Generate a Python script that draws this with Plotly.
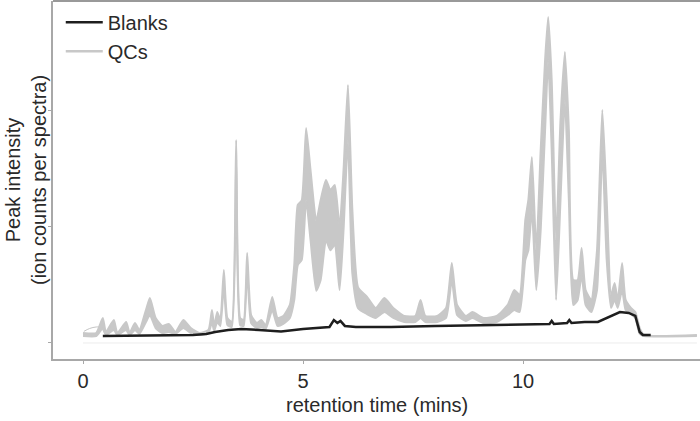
import plotly.graph_objects as go

# retention time (mins) sample points for the QC envelope
qc_rt = [0.00, 0.30, 0.45, 0.52, 0.70, 0.78, 0.98, 1.06, 1.18, 1.28,
         1.43, 1.52, 1.65, 1.80, 1.95, 2.10, 2.28, 2.45, 2.65, 2.85,
         2.93, 2.98, 3.05, 3.12, 3.20, 3.28, 3.38, 3.48, 3.57, 3.65,
         3.73, 3.82, 3.95, 4.05, 4.15, 4.30, 4.42, 4.55, 4.70, 4.80,
         4.88, 4.97, 5.07, 5.17, 5.30, 5.40, 5.52, 5.62, 5.72, 5.83,
         5.92, 6.02, 6.12, 6.25, 6.45, 6.65, 6.85, 7.05, 7.30, 7.55,
         7.67, 7.78, 8.05, 8.25, 8.38, 8.50, 8.70, 8.85, 9.10, 9.40,
         9.65, 9.80, 9.92, 10.05, 10.12, 10.20, 10.30, 10.40, 10.50, 10.57,
         10.65, 10.75, 10.85, 10.95, 11.04, 11.14, 11.24, 11.33, 11.42, 11.55,
         11.68, 11.80, 11.90, 12.00, 12.08, 12.15, 12.25, 12.33, 12.45, 12.55,
         12.65, 12.75, 13.95]

# upper edge of the QC traces (peak intensity, x1e7 ion counts)
qc_high = [0.086, 0.086, 0.216, 0.095, 0.198, 0.086, 0.181, 0.086, 0.172, 0.112,
           0.284, 0.388, 0.216, 0.147, 0.164, 0.095, 0.198, 0.129, 0.086, 0.112,
           0.284, 0.147, 0.267, 0.198, 0.629, 0.216, 0.181, 1.750, 0.216, 0.198,
           0.776, 0.241, 0.172, 0.198, 0.155, 0.397, 0.216, 0.233, 0.328, 0.672,
           1.190, 1.230, 1.853, 1.490, 1.050, 1.233, 1.405, 1.319, 1.362, 1.000,
           1.490, 2.224, 1.150, 0.480, 0.400, 0.302, 0.388, 0.302, 0.233, 0.233,
           0.371, 0.233, 0.233, 0.302, 0.690, 0.328, 0.233, 0.267, 0.216, 0.233,
           0.328, 0.457, 0.414, 1.060, 1.233, 1.603, 0.800, 1.664, 2.440, 2.810,
           2.267, 0.888, 1.922, 2.509, 1.836, 0.543, 0.543, 0.819, 0.457, 0.371,
           0.800, 2.009, 1.233, 0.414, 0.517, 0.371, 0.690, 0.371, 0.302, 0.267,
           0.129, 0.069, 0.069]

# lower edge of the QC traces
qc_low = [0.060, 0.060, 0.129, 0.069, 0.112, 0.069, 0.112, 0.069, 0.112, 0.078,
          0.181, 0.241, 0.129, 0.086, 0.095, 0.078, 0.129, 0.086, 0.069, 0.086,
          0.181, 0.103, 0.181, 0.147, 0.500, 0.155, 0.138, 1.578, 0.155, 0.147,
          0.629, 0.172, 0.129, 0.138, 0.121, 0.284, 0.147, 0.164, 0.216, 0.371,
          0.672, 0.716, 1.233, 0.888, 0.450, 0.543, 0.888, 0.800, 0.845, 0.457,
          0.974, 1.750, 0.600, 0.300, 0.250, 0.216, 0.267, 0.216, 0.181, 0.181,
          0.216, 0.181, 0.181, 0.216, 0.543, 0.241, 0.190, 0.216, 0.172, 0.181,
          0.241, 0.284, 0.267, 0.716, 0.800, 1.147, 0.457, 0.974, 1.836, 2.440,
          1.664, 0.371, 1.233, 2.095, 1.233, 0.328, 0.371, 0.586, 0.328, 0.267,
          0.457, 1.664, 0.716, 0.302, 0.371, 0.302, 0.457, 0.284, 0.250, 0.216,
          0.078, 0.060, 0.060]

# one QC run with an elevated start
qc_early_rt = [0.02, 0.15, 0.30, 0.40, 0.50]
qc_early_y = [0.100, 0.125, 0.138, 0.135, 0.078]

# blank injections
blank_rt = [0.45, 1.50, 2.50, 2.80, 3.00, 3.30, 3.60, 4.00, 4.50, 5.00,
            5.60, 5.70, 5.78, 5.85, 5.95, 6.20, 7.00, 8.00, 9.00, 10.00,
            10.60, 10.65, 10.70, 11.00, 11.05, 11.10, 11.40, 11.70, 12.00, 12.20,
            12.40, 12.55, 12.65, 12.72, 12.90]
blank_y = [0.060, 0.065, 0.069, 0.078, 0.095, 0.112, 0.121, 0.112, 0.100, 0.121,
           0.138, 0.198, 0.172, 0.190, 0.147, 0.138, 0.138, 0.147, 0.155, 0.164,
           0.164, 0.190, 0.164, 0.172, 0.198, 0.172, 0.181, 0.181, 0.233, 0.267,
           0.259, 0.233, 0.095, 0.069, 0.069]

# empty-signal trace
zero_rt = [0.0, 13.95]
zero_y = [0.0, 0.0]

x_ticks = [0, 5, 10]
y_ticks = [0, 1, 2]

QC_COL = "#c8c8c8"
BL_COL = "#1e1e1e"
FONT = "Liberation Sans, Arial, sans-serif"
FS = 20

fig = go.Figure()
fig.add_trace(go.Scatter(x=zero_rt, y=zero_y, mode="lines",
                         line=dict(color="#ececec", width=1), showlegend=False, hoverinfo="skip"))
fig.add_trace(go.Scatter(x=qc_early_rt, y=qc_early_y, mode="lines",
                         line=dict(color="#c4c4c4", width=1, shape="spline"), showlegend=False))
fig.add_trace(go.Scatter(x=qc_rt, y=qc_low, mode="lines",
                         line=dict(color=QC_COL, width=2, shape="spline", smoothing=0.5),
                         showlegend=False))
fig.add_trace(go.Scatter(x=qc_rt, y=qc_high, mode="lines", fill="tonexty",
                         fillcolor=QC_COL,
                         line=dict(color=QC_COL, width=2, shape="spline", smoothing=0.5),
                         showlegend=False))
fig.add_trace(go.Scatter(x=blank_rt, y=blank_y, mode="lines",
                         line=dict(color=BL_COL, width=2.5), showlegend=False))
# legend entries
fig.add_trace(go.Scatter(x=[None], y=[None], mode="lines", name="Blanks",
                         line=dict(color=BL_COL, width=2.5)))
fig.add_trace(go.Scatter(x=[None], y=[None], mode="lines", name="QCs",
                         line=dict(color=QC_COL, width=2.5)))

fig.update_layout(
    width=700, height=421,
    margin=dict(l=53, r=0, t=1, b=62),
    paper_bgcolor="white", plot_bgcolor="white",
    font=dict(family=FONT, size=FS, color="#2a2a2a"),
    legend=dict(x=0.012, y=0.995, xanchor="left", yanchor="top", traceorder="normal",
                bgcolor="rgba(0,0,0,0)", font=dict(size=FS), itemwidth=37,
                tracegroupgap=0),
    xaxis=dict(range=[-0.682, 14.02], tickvals=x_ticks, showgrid=False, zeroline=False,
               showline=True, linecolor="#a8a8a8", linewidth=1.5,
               ticks="outside", ticklen=3, tickcolor="#a8a8a8",
               tickfont=dict(size=FS), automargin=False),
    yaxis=dict(range=[-0.138, 2.948], tickvals=y_ticks, showticklabels=False,
               showgrid=False, zeroline=False,
               showline=True, linecolor="#a8a8a8", linewidth=1.5,
               ticks="outside", ticklen=3, tickcolor="#a8a8a8", automargin=False),
    shapes=[dict(type="line", xref="paper", yref="paper", x0=0, x1=1, y0=1, y1=1,
                 line=dict(color="#999999", width=2))],
    annotations=[
        dict(text="retention time (mins)", xref="paper", yref="paper",
             x=0.5, y=-0.1285, xanchor="center", yanchor="middle",
             showarrow=False, font=dict(size=FS)),
        dict(text="Peak intensity<br>(ion counts per spectra)", xref="paper", yref="paper",
             x=-0.0417, y=0.5, xanchor="center", yanchor="middle", textangle=-90,
             showarrow=False, font=dict(size=FS)),
    ],
)

fig.write_html("out.html", config={"displayModeBar": False},
               post_script="document.body.style.margin='0';document.body.style.overflow='hidden';")
